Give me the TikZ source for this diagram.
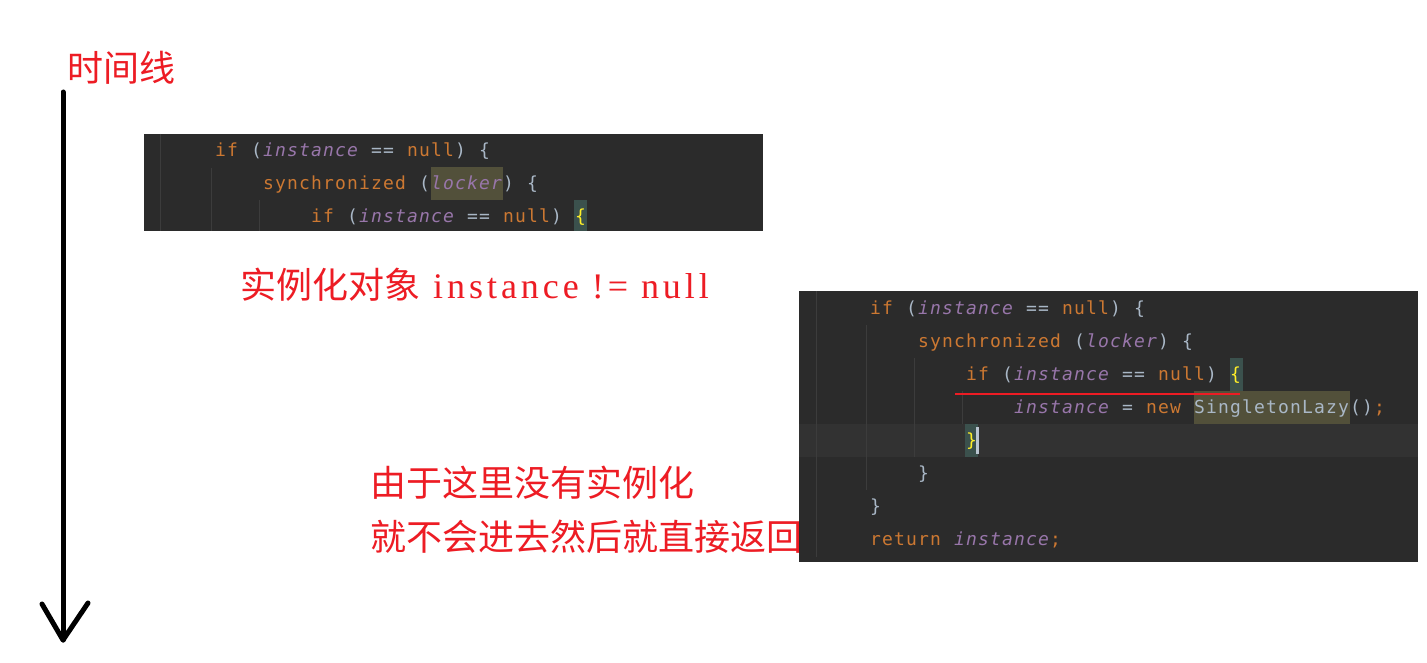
\documentclass[tikz,border=0pt]{standalone}
\usepackage{fontspec}
\newfontfamily\cjk{Noto Sans CJK SC}
\newfontfamily\lat[LetterSpace=11]{Liberation Serif}
\newfontfamily\codefont[LetterSpace=6.45]{DejaVu Sans Mono}
\definecolor{redtxt}{RGB}{237,28,36}
\definecolor{codebg}{HTML}{2B2B2B}
\definecolor{curline}{HTML}{323232}
\definecolor{guide}{HTML}{3C3C3C}
\definecolor{kwc}{HTML}{CC7832}
\definecolor{puc}{HTML}{9876AA}
\definecolor{txc}{HTML}{A9B7C6}
\definecolor{ybc}{HTML}{FFEF28}
\definecolor{olive}{RGB}{82,80,58}
\definecolor{teal}{HTML}{3B514D}
\newlength\lsp \setlength\lsp{1.16pt}
\newcommand\Kw[1]{\textcolor{kwc}{#1}\kern\lsp}
\newcommand\Pu[1]{\textcolor{puc}{\itshape #1}\kern\lsp}
\newcommand\Tx[1]{\textcolor{txc}{#1}\kern\lsp}
\newcommand\Yb[1]{\textcolor{ybc}{#1}\kern\lsp}
\newcommand\Sp{\hspace*{12pt}}
\tikzset{
  redlabel/.style={anchor=west, inner sep=0pt, text=redtxt, font=\cjk\fontsize{36}{40}\selectfont},
  codeline/.style={anchor=base west, inner sep=0pt, font=\codefont\fontsize{18}{20}\selectfont},
  codeblock/.style={fill=codebg, draw=none},
  guideline/.style={draw=guide, line width=1pt},
  hlbox/.style={fill=olive, draw=none},
  bracebox/.style={fill=teal, draw=none},
  timeline/.style={line width=5pt, line cap=round, line join=round}
}
\begin{document}
\begin{tikzpicture}[x=1pt, y=-1pt]
\useasboundingbox[fill=white] (0,0) rectangle (1427,663);

% time line arrow
\coordinate (top) at (63,92);
\coordinate (bot) at (63,640);
\coordinate (hl) at (42,604);
\coordinate (hr) at (88,603);
\draw[timeline] (top) -- (bot);
\draw[timeline] (hl) -- (bot) -- (hr);
\node[redlabel] (tl) at (67,68) {时间线};

% code block 1
\path[codeblock] (144,134) rectangle (763,231);
\draw[guideline] (160,134) -- (160,231);
\draw[guideline] (211,168) -- (211,231);
\draw[guideline] (259,200) -- (259,231);
\path[hlbox] (431,167) rectangle (503,200);
\path[bracebox] (574,200) rectangle (587,231);
\node[codeline] (a1) at (215,157) {\Kw{if}\Sp\Tx{(}\Pu{instance}\Sp\Tx{==}\Sp\Kw{null}\Tx{)}\Sp\Tx{\{}};
\node[codeline] (a2) at (263,190) {\Kw{synchronized}\Sp\Tx{(}\Pu{locker}\Tx{)}\Sp\Tx{\{}};
\node[codeline] (a3) at (311,223) {\Kw{if}\Sp\Tx{(}\Pu{instance}\Sp\Tx{==}\Sp\Kw{null}\Tx{)}\Sp\Yb{\{}};

% label 1
\node[redlabel] (lab1) at (240,285) {实例化对象{\lat\ instance != null}};

% label 2
\node[redlabel] (lab2) at (370,483) {由于这里没有实例化};
\node[redlabel] (lab3) at (370,537) {就不会进去然后就直接返回};

% code block 2
\path[codeblock] (799,291) rectangle (1418,562);
\path[fill=curline] (799,424) rectangle (1418,457);
\draw[guideline] (816,291) -- (816,557);
\draw[guideline] (866,325) -- (866,490);
\draw[guideline] (914,358) -- (914,457);
\draw[guideline] (962,391) -- (962,424);
\path[bracebox] (1230,358) rectangle (1243,391);
\path[hlbox] (1194,391) rectangle (1350,424);
\path[bracebox] (965,424) rectangle (978,457);
\path[fill=txc!80!white] (976,427) rectangle (979,454);
\node[codeline] (b1) at (870,314) {\Kw{if}\Sp\Tx{(}\Pu{instance}\Sp\Tx{==}\Sp\Kw{null}\Tx{)}\Sp\Tx{\{}};
\node[codeline] (b2) at (918,347) {\Kw{synchronized}\Sp\Tx{(}\Pu{locker}\Tx{)}\Sp\Tx{\{}};
\node[codeline] (b3) at (966,380) {\Kw{if}\Sp\Tx{(}\Pu{instance}\Sp\Tx{==}\Sp\Kw{null}\Tx{)}\Sp\Yb{\{}};
\node[codeline] (b4) at (1014,413) {\Pu{instance}\Sp\Tx{=}\Sp\Kw{new}\Sp\Tx{SingletonLazy()}\Kw{;}};
\node[codeline] (b5) at (966,446) {\Yb{\}}};
\node[codeline] (b6) at (918,479) {\Tx{\}}};
\node[codeline] (b7) at (870,512) {\Tx{\}}};
\node[codeline] (b8) at (870,545) {\Kw{return}\Sp\Pu{instance}\Kw{;}};

% red underline
\coordinate (u1) at (955,394);
\coordinate (u2) at (1240,394);
\draw[redtxt, line width=2pt] (u1) -- (u2);
\end{tikzpicture}
\end{document}
